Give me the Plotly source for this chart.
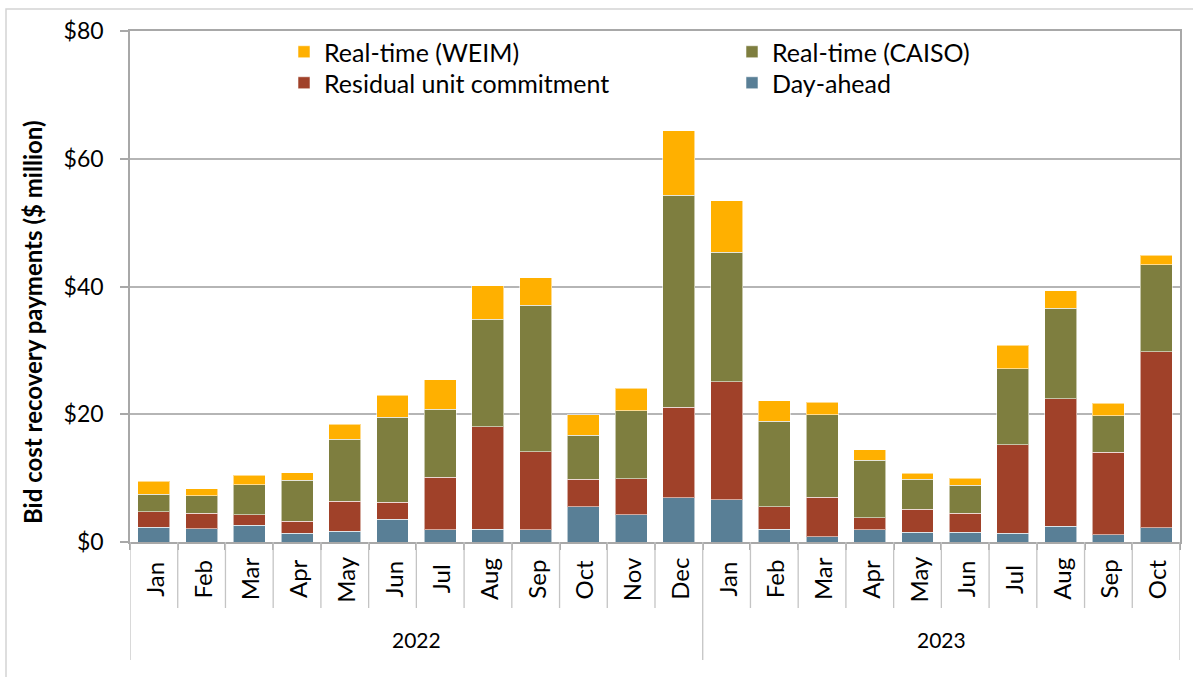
import plotly.graph_objects as go

months = ["Jan", "Feb", "Mar", "Apr", "May", "Jun", "Jul", "Aug", "Sep", "Oct", "Nov", "Dec",
          "Jan", "Feb", "Mar", "Apr", "May", "Jun", "Jul", "Aug", "Sep", "Oct"]
years = ["2022"] * 12 + ["2023"] * 10
day_ahead = [2.3, 2.1, 2.6, 1.4, 1.7, 3.55, 1.9, 2.0, 1.9, 5.5, 4.3, 6.95,
             6.6, 2.0, 0.8, 1.9, 1.55, 1.55, 1.4, 2.5, 1.15, 2.2]
residual_uc = [2.4, 2.4, 1.7, 1.85, 4.65, 2.7, 8.2, 16.05, 12.25, 4.35, 5.6, 14.15,
               18.5, 3.55, 6.2, 1.9, 3.6, 2.95, 13.8, 19.9, 12.9, 27.6]
rt_caiso = [2.8, 2.75, 4.7, 6.4, 9.75, 13.25, 10.7, 16.85, 22.9, 6.9, 10.65, 33.2,
            20.3, 13.35, 12.9, 9.0, 4.65, 4.4, 11.9, 14.2, 5.75, 13.6]
rt_weim = [2.0, 1.05, 1.45, 1.2, 2.35, 3.45, 4.6, 5.2, 4.35, 3.15, 3.55, 10.1,
           8.0, 3.2, 2.0, 1.65, 1.0, 1.05, 3.7, 2.7, 1.9, 1.5]
y_ticks = [0, 20, 40, 60, 80]

idx = list(range(len(months)))
edge = dict(color="rgba(255,255,255,0.55)", width=1)

fig = go.Figure()
fig.add_trace(go.Bar(x=idx, y=day_ahead, name="Day-ahead", marker=dict(color="#597F96", line=edge),
                     legend="legend4"))
fig.add_trace(go.Bar(x=idx, y=residual_uc, name="Residual unit commitment",
                     marker=dict(color="#A04129", line=edge), legend="legend3"))
fig.add_trace(go.Bar(x=idx, y=rt_caiso, name="Real-time (CAISO)", marker=dict(color="#7E7E3F", line=edge),
                     legend="legend2"))
fig.add_trace(go.Bar(x=idx, y=rt_weim, name="Real-time (WEIM)", marker=dict(color="#FFB000", line=edge),
                     legend="legend"))

PLOT_L, PLOT_R, PLOT_T, PLOT_B = 130, 1180, 31, 542
def px_x(p):
    return (p - PLOT_L) / (PLOT_R - PLOT_L)
def px_y(p):
    return (PLOT_B - p) / (PLOT_B - PLOT_T)

legend_font = dict(family="Lato", size=25, color="#000000")
def leg(xp, yp):
    return dict(x=px_x(xp), y=px_y(yp), xanchor="left", yanchor="top",
                font=legend_font, bgcolor="rgba(0,0,0,0)")

fig.update_layout(
    width=1193, height=677, autosize=False,
    margin=dict(l=PLOT_L, r=1193 - PLOT_R, t=PLOT_T, b=677 - PLOT_B),
    paper_bgcolor="white", plot_bgcolor="white",
    barmode="stack", bargap=0.33,
    font=dict(family="Lato", color="#000000"),
    legend=leg(284, 29), legend3=leg(284, 60),
    legend2=leg(732, 29), legend4=leg(732, 60),
    showlegend=True,
)
fig.update_yaxes(range=[0, 80], tickvals=y_ticks, ticktext=["$" + str(v) for v in y_ticks],
                 showgrid=True, gridcolor="#B5B5B5", gridwidth=1.5,
                 showline=True, linecolor="#A8A8A8", linewidth=1.5, mirror=True,
                 ticks="outside", ticklen=8, tickcolor="#A8A8A8", tickwidth=1.5,
                 ticklabelstandoff=12, tickfont=dict(family="Lato", size=23, color="#000000"),
                 zeroline=False)
fig.update_xaxes(range=[-0.5, len(months) - 0.5], tickvals=[i - 0.5 for i in range(len(months) + 1)],
                 showticklabels=False, ticks="outside", ticklen=6, tickcolor="#A8A8A8", tickwidth=1.5,
                 showline=True, linecolor="#A8A8A8", linewidth=1.5, mirror=True,
                 showgrid=False, zeroline=False)

shapes = []
for i in range(len(months) + 1):
    long_div = i == 0 or i == len(months) or (0 < i < len(months) and years[i] != years[i - 1])
    shapes.append(dict(type="line", xref="x", yref="paper", x0=i - 0.5, x1=i - 0.5,
                       y0=0, y1=px_y(660 if long_div else 608),
                       line=dict(color="#C4C4C4", width=1.3)))
shapes.append(dict(type="rect", xref="paper", yref="paper", x0=px_x(6), x1=px_x(1215),
                   y0=px_y(700), y1=px_y(9), line=dict(color="#D4D4D4", width=1.5),
                   fillcolor="rgba(0,0,0,0)", layer="below"))
fig.update_layout(shapes=shapes)

annotations = []
for i, m in enumerate(months):
    annotations.append(dict(x=i, xref="x", y=px_y(579), yref="paper", text=m, textangle=-90,
                            showarrow=False, xanchor="center", yanchor="middle",
                            font=dict(family="Lato", size=24, color="#000000")))
for yr in ["2022", "2023"]:
    pos = [i for i, y in enumerate(years) if y == yr]
    annotations.append(dict(x=(pos[0] + pos[-1]) / 2, xref="x", y=px_y(640), yref="paper", text=yr,
                            showarrow=False, xanchor="center", yanchor="middle",
                            font=dict(family="Lato", size=21, color="#000000")))
annotations.append(dict(x=px_x(32), xref="paper", y=px_y(322), yref="paper",
                        text="<b>Bid cost recovery payments ($ million)</b>", textangle=-90,
                        showarrow=False, xanchor="center", yanchor="middle",
                        font=dict(family="Lato", size=24, color="#000000")))
fig.update_layout(annotations=annotations)

fig.write_html("out.html", config={"displayModeBar": False},
               post_script="document.body.style.margin='0';document.body.style.overflow='hidden';")
